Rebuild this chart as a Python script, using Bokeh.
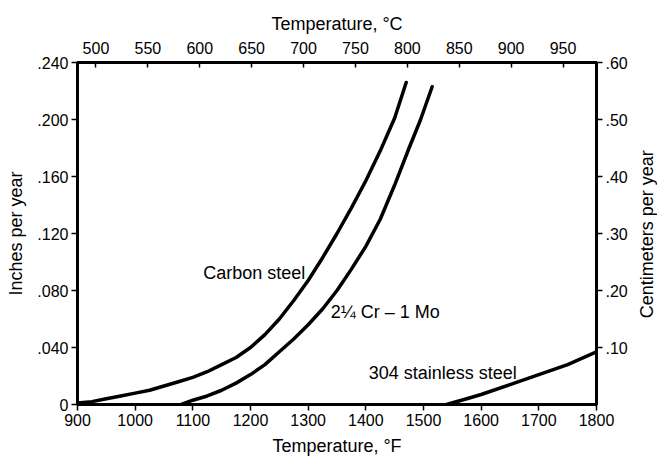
import math
from bokeh.plotting import figure
from bokeh.layouts import row
from bokeh.models import Range1d, LinearAxis, FixedTicker, Label
from bokeh.embed import file_html
from bokeh.resources import INLINE

# Data (temperature in °F, corrosion rate in inches per year)
carbon_T = [900, 925, 950, 975, 1000, 1025, 1050, 1075, 1100, 1125, 1150, 1175, 1200,
            1225, 1250, 1275, 1300, 1325, 1350, 1375, 1400, 1425, 1450, 1470]
carbon_ipy = [0.001, 0.002, 0.004, 0.006, 0.008, 0.010, 0.013, 0.016, 0.019, 0.023, 0.028, 0.033, 0.040,
              0.049, 0.060, 0.073, 0.087, 0.103, 0.120, 0.138, 0.157, 0.178, 0.201, 0.226]

crmo_T = [1080, 1100, 1125, 1150, 1175, 1200, 1225, 1250, 1275, 1300, 1325, 1350, 1375,
          1400, 1425, 1450, 1475, 1495, 1515]
crmo_ipy = [0.000, 0.003, 0.006, 0.010, 0.015, 0.021, 0.028, 0.037, 0.046, 0.056, 0.067, 0.080, 0.095,
            0.111, 0.130, 0.154, 0.180, 0.200, 0.223]

ss_T = [1540, 1575, 1600, 1650, 1700, 1750, 1800]
ss_ipy = [0.000, 0.004, 0.007, 0.014, 0.021, 0.028, 0.037]

f_ticks = [900, 1000, 1100, 1200, 1300, 1400, 1500, 1600, 1700, 1800]
c_ticks = [500, 550, 600, 650, 700, 750, 800, 850, 900, 950]
in_ticks = [0, 0.04, 0.08, 0.12, 0.16, 0.20, 0.24]
in_labels = ["0", ".040", ".080", ".120", ".160", ".200", ".240"]
cm_ticks = [0.1, 0.2, 0.3, 0.4, 0.5, 0.6]
cm_labels = [".10", ".20", ".30", ".40", ".50", ".60"]

series_labels = ["Carbon steel", "2\u00bc Cr \u2013 1 Mo", "304 stainless steel"]
right_title = "Centimeters per year"

FONT = "Liberation Sans"
TICK_SIZE = "16px"
LABEL_SIZE = "18px"

p = figure(width=637, height=458, output_backend="svg", toolbar_location=None,
           x_range=Range1d(900, 1800), y_range=Range1d(0, 0.24),
           x_axis_location=None, y_axis_location=None,
           min_border_left=77, min_border_right=41, min_border_top=62, min_border_bottom=53)
p.grid.visible = False
p.outline_line_color = "black"
p.outline_line_width = 3
p.background_fill_color = "white"
p.border_fill_color = "white"

p.extra_x_ranges = {"C": Range1d((900 - 32) / 1.8, (1800 - 32) / 1.8)}
p.extra_y_ranges = {"cm": Range1d(0, 0.6)}


def style(ax, label, tin=0, tout=6, lstand=3, tstand=5):
    ax.axis_label = label
    ax.axis_label_text_font = FONT
    ax.axis_label_text_font_size = LABEL_SIZE
    ax.axis_label_text_font_style = "normal"
    ax.axis_label_text_color = "black"
    ax.major_label_text_font = FONT
    ax.major_label_text_font_size = TICK_SIZE
    ax.major_label_text_color = "black"
    ax.axis_line_width = 3
    ax.axis_line_color = "black"
    ax.major_tick_line_width = 1.5
    ax.major_tick_line_color = "black"
    ax.major_tick_in = tin
    ax.major_tick_out = tout
    ax.minor_tick_line_color = None
    ax.major_label_standoff = lstand
    ax.axis_label_standoff = tstand


bottom = LinearAxis(ticker=FixedTicker(ticks=f_ticks))
style(bottom, "Temperature, \u00b0F", tstand=7)
p.add_layout(bottom, "below")

top = LinearAxis(x_range_name="C", ticker=FixedTicker(ticks=c_ticks))
style(top, "Temperature, \u00b0C", tin=5, tout=0, lstand=9, tstand=5)
p.add_layout(top, "above")

left = LinearAxis(ticker=FixedTicker(ticks=in_ticks),
                  major_label_overrides={t: s for t, s in zip(in_ticks, in_labels)})
style(left, "Inches per year", tstand=8)
p.add_layout(left, "left")

right = LinearAxis(y_range_name="cm", ticker=FixedTicker(ticks=cm_ticks),
                   major_label_overrides={t: s for t, s in zip(cm_ticks, cm_labels)})
style(right, "")
p.add_layout(right, "right")

for xs, ys in [(carbon_T, carbon_ipy), (crmo_T, crmo_ipy), (ss_T, ss_ipy)]:
    p.line(xs, ys, line_color="black", line_width=3.5, line_cap="round", line_join="round")

label_pos = [(1118, 0.0926), (1339, 0.065), (1405, 0.0218)]
for (lx, ly), txt in zip(label_pos, series_labels):
    p.add_layout(Label(x=lx, y=ly, text=txt, text_font=FONT, text_font_size=LABEL_SIZE,
                       text_baseline="middle", text_align="left", text_color="black"))

# narrow strip to the right holding the right-axis title, reading bottom-to-top
strip = figure(width=20, height=458, output_backend="svg", toolbar_location=None,
               x_range=Range1d(0, 1), y_range=Range1d(0, 458),
               x_axis_location=None, y_axis_location=None,
               min_border_left=0, min_border_right=0, min_border_top=0, min_border_bottom=0)
strip.grid.visible = False
strip.outline_line_color = None
strip.background_fill_color = "white"
strip.border_fill_color = "white"
strip.add_layout(Label(x=0.45, y=228, angle=math.pi / 2, text=right_title,
                       text_font=FONT, text_font_size=LABEL_SIZE, text_align="center",
                       text_baseline="middle", text_color="black"))

layout = row(p, strip, spacing=0)

open("out.html", "w").write(file_html(layout, INLINE))
